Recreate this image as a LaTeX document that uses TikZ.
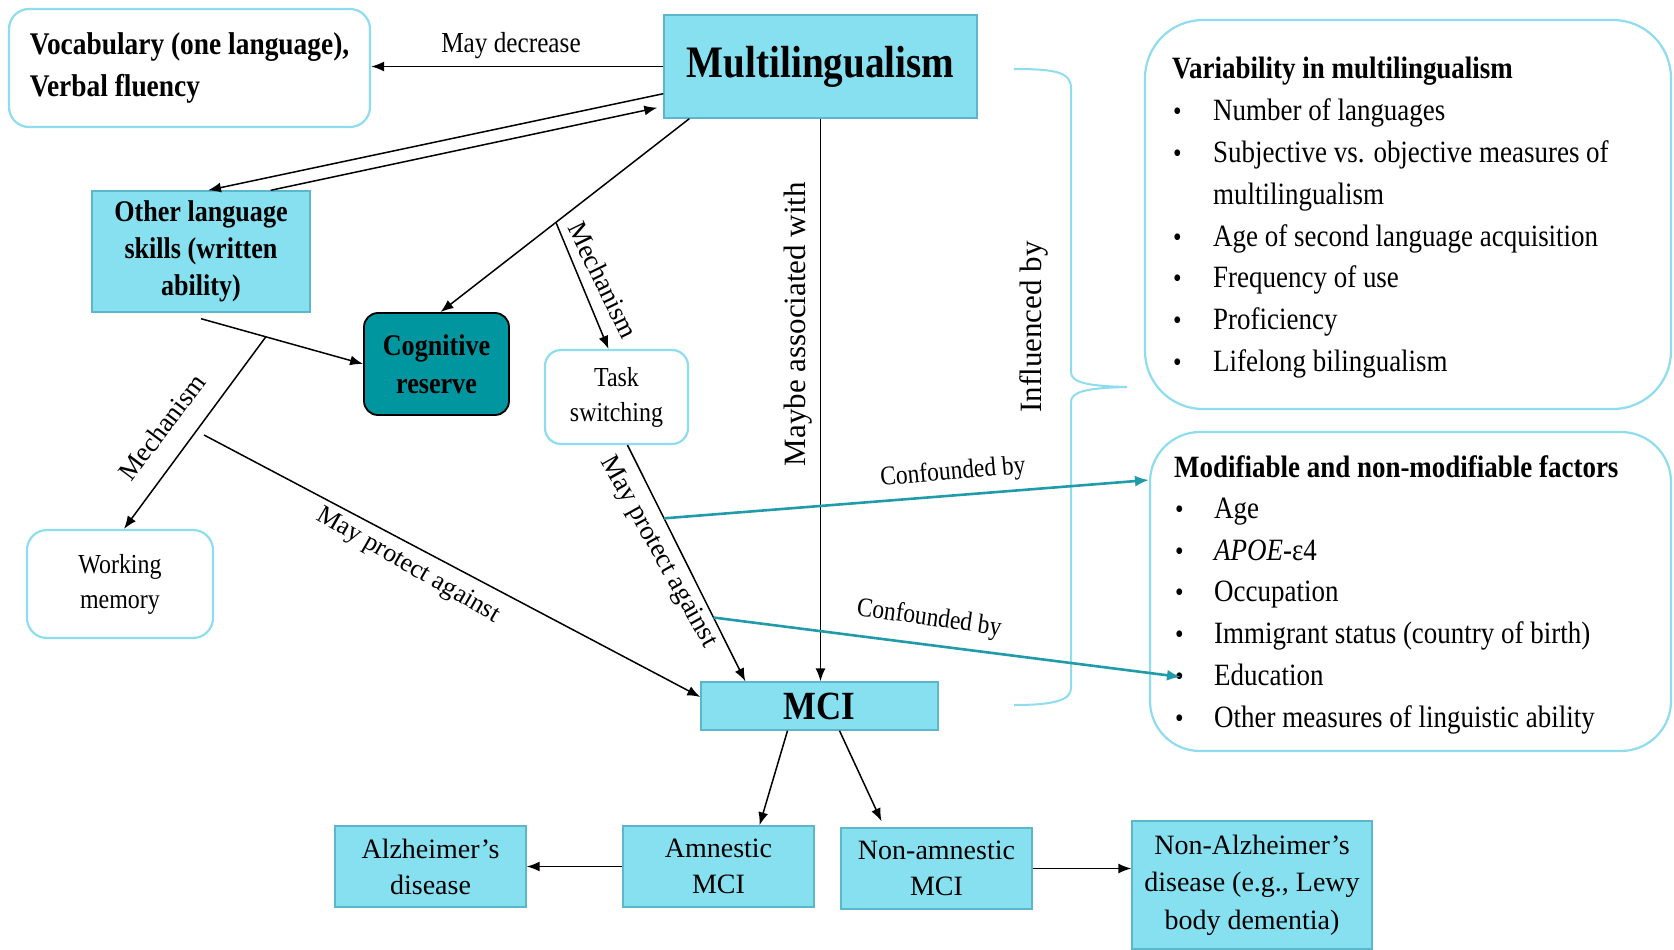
\documentclass[tikz,border=0pt]{standalone}
\usepackage{fontspec}
\setmainfont{Liberation Serif}[FakeStretch=0.87]
\newfontfamily\plainserif{Liberation Serif}
\usetikzlibrary{arrows.meta,calc}
\definecolor{boxblue}{HTML}{86E0F0}
\definecolor{boxedge}{HTML}{5DB7CC}
\definecolor{softcyan}{HTML}{8EDDEF}
\definecolor{teal1}{HTML}{0096A0}
\definecolor{tealline}{HTML}{1F9BAA}
\newcommand\fsz[2]{\fontsize{#1}{#2}\selectfont}
\begin{document}
\begin{tikzpicture}[x=1pt,y=-1pt,
  bluebox/.style={draw=boxedge,line width=1.4pt,fill=boxblue,align=center,inner sep=2pt},
  softbox/.style={draw=softcyan,line width=2.2pt,fill=white,rounded corners=#1,align=center,inner sep=2pt},
  softbox/.default=18pt,
  arr/.style={draw=black,line width=1.5pt,-{Latex[length=13pt,width=10pt]}},
  conf/.style={draw=tealline,line width=2.6pt,-{Latex[length=14pt,width=11pt]}},
  lbl/.style={inner sep=0pt,font=\fsz{29}{34}},
  dlbl/.style={inner sep=0pt,font=\plainserif\fsz{27}{32}},
  lst/.style={anchor=base west,inner sep=0pt,font=\fsz{31}{37}},
  bul/.style={anchor=base west,inner sep=0pt,font=\fsz{28}{30}},
]
\path[use as bounding box] (0,0) rectangle (1674,950);

% boxes
\node[softbox=20pt,minimum width=361pt,minimum height=118pt,align=left,font=\bfseries\fsz{31.5}{42}] (vocab) at (189.5,68) {Vocabulary (one language),\\Verbal fluency};
\node[bluebox,minimum width=313pt,minimum height=103pt,font=\bfseries\fsz{45}{50}] (multi) at (820.5,66.5) {\raisebox{-3pt}{Multilingualism}};
\node[bluebox,minimum width=218pt,minimum height=121pt,font=\bfseries\fsz{30}{37}] (other) at (201,251.5) {\raisebox{-6pt}{\parbox{210pt}{\centering Other language\\skills (written\\ability)}}};
\node[draw=black,line width=1.8pt,fill=teal1,rounded corners=14pt,minimum width=145pt,minimum height=102pt,align=center,font=\bfseries\fsz{30}{38}] (cog) at (436.5,364) {Cognitive\\reserve};
\node[softbox=16pt,minimum width=143pt,minimum height=94pt,font=\fsz{27.5}{35}] (task) at (616.5,397) {Task\\switching};
\node[softbox=20pt,minimum width=186pt,minimum height=108pt,font=\fsz{27.5}{35}] (work) at (120,584) {Working\\memory};
\node[bluebox,minimum width=237pt,minimum height=48pt,font=\bfseries\fsz{40}{44}] (mci) at (819.5,706) {MCI};
\node[bluebox,minimum width=191pt,minimum height=81pt,font=\plainserif\fsz{28}{36}] (alz) at (430.5,866.5) {Alzheimer’s\\disease};
\node[bluebox,minimum width=191pt,minimum height=81pt,font=\plainserif\fsz{28}{36}] (amn) at (718.5,866.5) {Amnestic\\MCI};
\node[bluebox,minimum width=191pt,minimum height=81pt,font=\plainserif\fsz{28}{36}] (nonamn) at (936.5,868.5) {Non-amnestic\\MCI};
\node[bluebox,minimum width=240pt,minimum height=128pt,font=\plainserif\fsz{28}{37.5}] (nonalz) at (1252,885) {Non-Alzheimer’s\\disease (e.g., Lewy\\body dementia)};
\node[softbox=58pt,minimum width=526pt,minimum height=389pt] (var) at (1408,214.5) {};
\node[softbox=50pt,minimum width=521pt,minimum height=319pt] (mod) at (1410.5,591.5) {};

% brace
\draw[draw=softcyan,line width=2pt] (1014,69) .. controls (1055,69) and (1071,72) .. (1071,88) -- (1071,372) .. controls (1071,382) and (1085,386) .. (1127,387) .. controls (1085,388) and (1071,392) .. (1071,402) -- (1071,688) .. controls (1071,700) and (1055,705) .. (1014,705);

% lists
\node[lst,font=\bfseries\fsz{31}{37}] (vh) at (1172,78) {Variability in multilingualism};
\node[bul] (vb1) at (1173,120.7) {•}; \node[lst] (vt1) at (1213,120.7) {Number of languages};
\node[bul] (vb2) at (1173,162.4) {•}; \node[lst] (vt2) at (1213,162.4) {Subjective vs. objective measures of};
\node[lst] (vt2b) at (1213,204) {multilingualism};
\node[bul] (vb3) at (1173,246) {•}; \node[lst] (vt3) at (1213,246) {Age of second language acquisition};
\node[bul] (vb4) at (1173,287.5) {•}; \node[lst] (vt4) at (1213,287.5) {Frequency of use};
\node[bul] (vb5) at (1173,329) {•}; \node[lst] (vt5) at (1213,329) {Proficiency};
\node[bul] (vb6) at (1173,371) {•}; \node[lst] (vt6) at (1213,371) {Lifelong bilingualism};

\node[lst,font=\bfseries\fsz{31}{37}] (mh) at (1174,477) {Modifiable and non-modifiable factors};
\node[bul] (mb1) at (1175,518) {•}; \node[lst] (mt1) at (1214,518) {Age};
\node[bul] (mb2) at (1175,560) {•}; \node[lst] (mt2) at (1214,560) {\textit{APOE}-ε4};
\node[bul] (mb3) at (1175,601.5) {•}; \node[lst] (mt3) at (1214,601.5) {Occupation};
\node[bul] (mb4) at (1175,643) {•}; \node[lst] (mt4) at (1214,643) {Immigrant status (country of birth)};
\node[bul] (mb5) at (1175,685) {•}; \node[lst] (mt5) at (1214,685) {Education};
\node[bul] (mb6) at (1175,727) {•}; \node[lst] (mt6) at (1214,727) {Other measures of linguistic ability};

% connectors
\draw[arr] (multi.west) -- (multi.west -| vocab.east);
\draw[arr] ($(multi.south west)+(0,-25)$) -- ($(other.north)+(7,0)$);
\draw[arr] ($(other.north east)+(-40,0)$) -- ($(multi.south west)+(-6,-11)$);
\draw[arr] ($(multi.south west)+(26,0)$) -- coordinate[pos=0.536] (m2) ($(cog.north)+(4,0)$);
\draw[arr] (m2) -- ($(task.north)+(-8,0)$);
\draw[arr] ([yshift=-6pt]other.south) -- coordinate[pos=0.4] (m1) (cog.west);
\draw[arr] (m1) -- ($(work.north)+(4,0)$);
\coordinate (p1) at (204,435);
\draw[arr] (p1) -- ($(mci.west)+(0,-9)$);
\draw[arr] (multi.south) -- (multi.south |- mci.north);
\draw[arr] ($(task.south)+(11,0)$) -- coordinate[pos=0.31] (t1) coordinate[pos=0.73] (t2) ($(mci.north west)+(45,0)$);
\coordinate (cf1) at (1149,480);
\coordinate (cf2) at (1181,677);
\draw[conf] (t1) -- (cf1);
\draw[conf] (t2) -- (cf2);
\draw[arr] ($(mci.south)+(-32,0)$) -- ($(amn.north)+(41,0)$);
\draw[arr] ($(mci.south)+(20,0)$) -- ($(nonamn.north)+(-55,-6)$);
\draw[arr] (amn.west) -- (amn.west -| alz.east);
\draw[arr] (nonamn.east) -- (nonamn.east -| nonalz.west);

% labels
\node[lbl] (lmd) at (511,46) {May decrease};
\node[inner sep=0pt,font=\plainserif\fsz{31}{36},rotate=90] (lassoc) at (798,324) {Maybe associated with};
\node[inner sep=0pt,font=\plainserif\fsz{31}{36},rotate=90] (linfl) at (1034,327) {Influenced by};
\node[dlbl,rotate=53] (lmech1) at (162,427) {Mechanism};
\node[dlbl,rotate=-64] (lmech2) at (603,280) {Mechanism};
\node[dlbl,font=\plainserif\fsz{26}{32},rotate=-30] (lprot1) at (408,566) {May protect against};
\node[dlbl,rotate=-61] (lprot2) at (658,552) {May protect against};
\node[lbl,font=\fsz{27}{32},rotate=5] (lconf1) at (953,473) {Confounded by};
\node[lbl,font=\fsz{27}{32},rotate=-8] (lconf2) at (929,619) {Confounded by};
\end{tikzpicture}
\end{document}
